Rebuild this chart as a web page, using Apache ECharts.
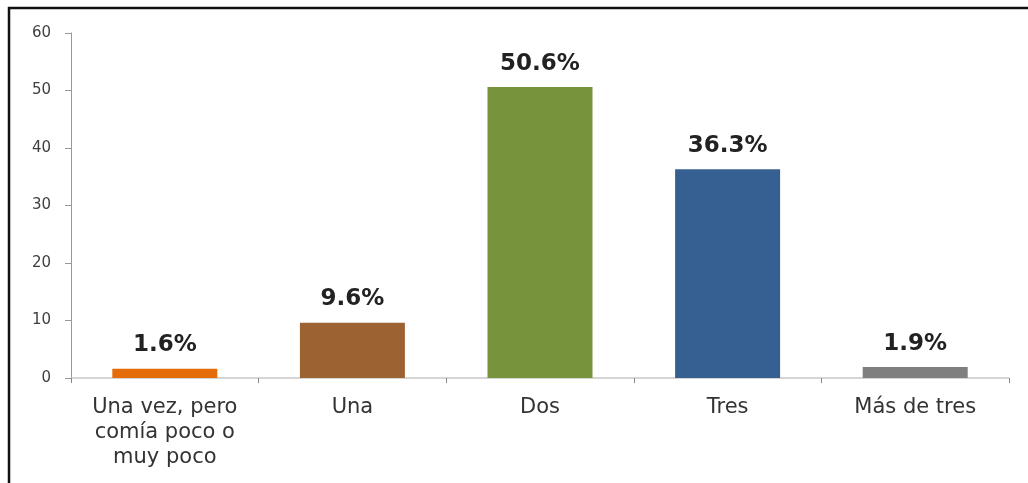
<!DOCTYPE html>
<html>
<head>
<meta charset="utf-8">
<script src="https://cdn.jsdelivr.net/npm/echarts@6/dist/echarts.min.js"></script>
<style>
html,body{margin:0;padding:0;background:#fff;}
#c{width:1028px;height:483px;}
</style>
</head>
<body>
<div id="c"></div>
<script>
var categories = ['Una vez, pero\ncomía poco o\nmuy poco', 'Una', 'Dos', 'Tres', 'Más de tres'];
var values = [1.6, 9.6, 50.6, 36.3, 1.9];
var colors = ['#E46C0A', '#9C6232', '#77933C', '#376092', '#7F7F7F'];
var yTicks = [0, 10, 20, 30, 40, 50, 60];

var chart = echarts.init(document.getElementById('c'), null, {renderer: 'canvas'});
chart.setOption({
  animation: false,
  backgroundColor: '#fff',
  graphic: [{
    type: 'rect',
    shape: {x: 9, y: 8, width: 1040, height: 500},
    style: {fill: 'none', stroke: '#111', lineWidth: 2.5},
    silent: true
  }],
  grid: {left: 71, right: 19, top: 33, bottom: 105, containLabel: false},
  xAxis: {
    type: 'category',
    data: categories,
    axisLine: {lineStyle: {color: '#c8c8c8', width: 1.5}},
    axisTick: {show: true, alignWithLabel: false, length: 5, lineStyle: {color: '#888'}},
    axisLabel: {
      color: '#333', fontSize: 21, lineHeight: 25, margin: 17,
      fontFamily: 'DejaVu Sans, sans-serif', interval: 0
    }
  },
  yAxis: {
    type: 'value',
    min: yTicks[0], max: yTicks[yTicks.length - 1], interval: 10,
    splitLine: {show: false},
    axisLine: {show: true, lineStyle: {color: '#999'}},
    axisTick: {show: true, length: 6, lineStyle: {color: '#999'}},
    axisLabel: {color: '#404040', fontSize: 15, margin: 20, fontFamily: 'DejaVu Sans, sans-serif'}
  },
  series: [{
    type: 'bar',
    barWidth: 105,
    data: values.map(function (v, i) { return {value: v, itemStyle: {color: colors[i]}}; }),
    label: {
      show: true, position: 'top', distance: 12,
      formatter: function (p) { return p.value.toFixed(1) + '%'; },
      color: '#222', fontSize: 23, fontWeight: 'bold', fontFamily: 'DejaVu Sans, sans-serif'
    }
  }]
});
</script>
</body>
</html>
